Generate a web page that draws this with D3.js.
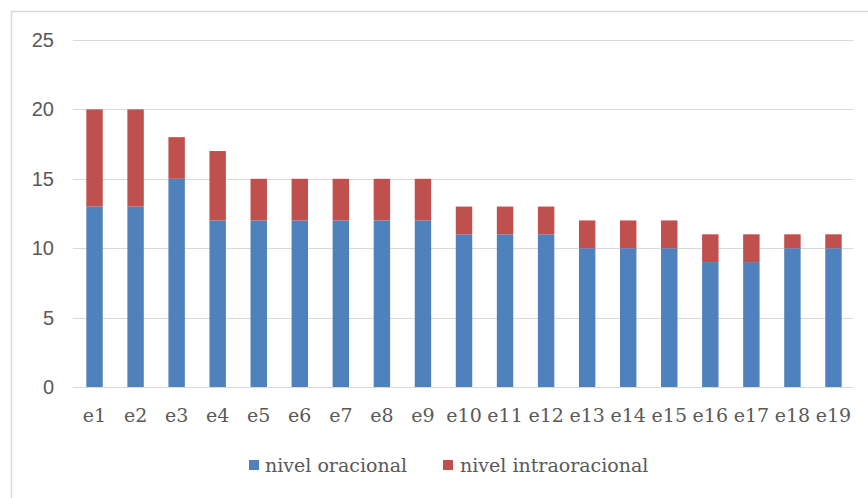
<!DOCTYPE html>
<html>
<head>
<meta charset="utf-8">
<script src="https://cdn.jsdelivr.net/npm/d3@7"></script>
<style>
  html, body { margin: 0; padding: 0; background: #fff; }
  svg { display: block; }
  text { font-family: "DejaVu Serif", "Liberation Serif", serif; fill: #595959; }
</style>
</head>
<body>
<svg id="chart" width="868" height="498"></svg>
<script>
const categories = ["e1","e2","e3","e4","e5","e6","e7","e8","e9","e10","e11","e12","e13","e14","e15","e16","e17","e18","e19"];
const oracional = [13,13,15,12,12,12,12,12,12,11,11,11,10,10,10,9,9,10,10];
const intraoracional = [7,7,3,5,3,3,3,3,3,2,2,2,2,2,2,2,2,1,1];
const yTicks = [0,5,10,15,20,25];
const seriesNames = ["nivel oracional","nivel intraoracional"];
const colors = ["#4f81bd","#c0504d"];

(function () {
const svg = d3.select("#chart");
// chart border (top & left visible)
svg.append("rect").attr("x", 11.5).attr("y", 11.5).attr("width", 900).attr("height", 600)
  .attr("fill", "none").attr("stroke", "#d9d9d9").attr("stroke-width", 1.5);

const pl = 73, pr = 853, pt = 40, pb = 387;
const x = d3.scaleBand().domain(categories).range([pl + 1, pr + 1]).paddingInner(0.6).paddingOuter(0.3);
const y = d3.scaleLinear().domain([0, 25]).range([pb, pt]);

// gridlines
svg.append("g").selectAll("line").data(yTicks).join("line")
  .attr("x1", pl).attr("x2", pr)
  .attr("y1", d => Math.round(y(d)) + 0.5).attr("y2", d => Math.round(y(d)) + 0.5)
  .attr("stroke", "#d9d9d9").attr("stroke-width", 1.2);

// y labels
const yAxis = d3.axisLeft(y).tickValues(yTicks).tickSize(0).tickPadding(0);
const gy = svg.append("g").attr("transform", `translate(54,0)`).call(yAxis);
gy.select(".domain").remove();
gy.selectAll("text").attr("font-size", 20).style("font-family", "'Liberation Sans', Arial, sans-serif").attr("fill", "#595959").attr("text-anchor", "end");

// stacked data
const data = categories.map((c, i) => ({cat: c, a: oracional[i], b: intraoracional[i]}));
const stack = d3.stack().keys(["a","b"])(data);

svg.append("g").selectAll("g").data(stack).join("g")
  .attr("fill", (d, i) => colors[i])
  .selectAll("rect").data(d => d).join("rect")
  .attr("x", d => x(d.data.cat))
  .attr("width", x.bandwidth())
  .attr("y", d => y(d[1]))
  .attr("height", d => y(d[0]) - y(d[1]));

// x labels
const xAxis = d3.axisBottom(x).tickSize(0).tickPadding(0);
const gx = svg.append("g").attr("transform", `translate(0,${pb + 28})`).call(xAxis);
gx.select(".domain").remove();
gx.selectAll("text").attr("font-size", 19).attr("fill", "#595959")
  .style("font-family", "'DejaVu Serif', serif").attr("dy", "0.35em");

// legend
const legendItems = [
  {name: seriesNames[0], color: colors[0], sx: 249, tx: 265},
  {name: seriesNames[1], color: colors[1], sx: 443, tx: 460}
];
const lg = svg.append("g");
legendItems.forEach(it => {
  lg.append("rect").attr("x", it.sx).attr("y", 460).attr("width", 10).attr("height", 10).attr("fill", it.color);
  lg.append("text").attr("x", it.tx).attr("y", 465).attr("dy", "0.35em")
    .attr("font-size", 19).text(it.name);
});
})();
</script>
</body>
</html>
